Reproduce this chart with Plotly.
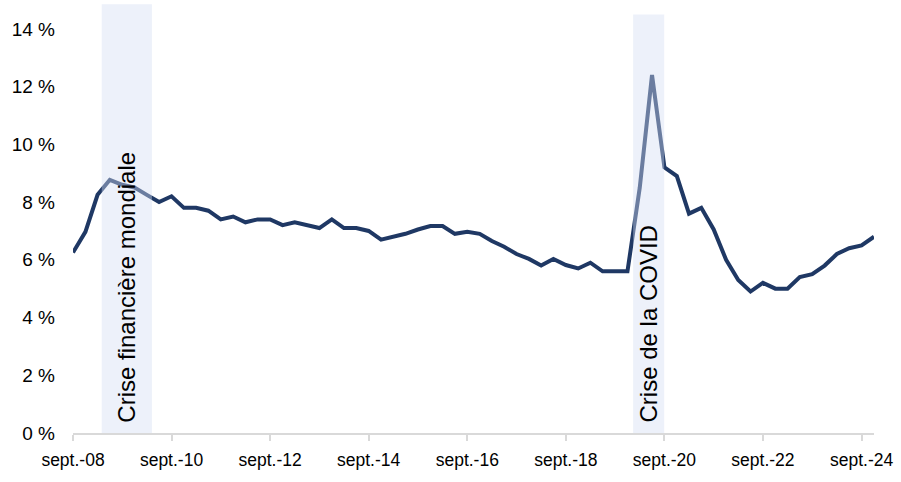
import plotly.graph_objects as go
import pandas as pd

# Quarterly values (%), sept. 2008 -> déc. 2024
values = [6.25, 6.97, 8.25, 8.77, 8.6, 8.5, 8.25, 8.0, 8.2, 7.8,
          7.8, 7.7, 7.4, 7.5, 7.3, 7.4, 7.4, 7.2, 7.3, 7.2,
          7.1, 7.4, 7.1, 7.1, 7.0, 6.7, 6.8, 6.9, 7.05, 7.17,
          7.17, 6.9, 6.97, 6.9, 6.65, 6.45, 6.2, 6.03, 5.8, 6.03,
          5.82, 5.7, 5.9, 5.6, 5.6, 5.6, 8.5, 12.4, 9.2, 8.9,
          7.6, 7.8, 7.05, 6.0, 5.3, 4.9, 5.2, 5.0, 5.0, 5.4,
          5.5, 5.8, 6.2, 6.4, 6.5, 6.8]
dates = pd.date_range("2008-09-30", periods=len(values), freq="QE")

tick_vals = ["2008-09-30", "2010-09-30", "2012-09-30", "2014-09-30", "2016-09-30",
             "2018-09-30", "2020-09-30", "2022-09-30", "2024-09-30"]
tick_text = ["sept.-08", "sept.-10", "sept.-12", "sept.-14", "sept.-16",
             "sept.-18", "sept.-20", "sept.-22", "sept.-24"]
y_ticks = [0, 2, 4, 6, 8, 10, 12, 14]
y_text = ["0 %", "2 %", "4 %", "6 %", "8 %", "10 %", "12 %", "14 %"]

crises = [
    {"label": "Crise financière mondiale", "start": "2009-05-01", "end": "2010-05-08", "top": 14.85},
    {"label": "Crise de la COVID", "start": "2020-02-11", "end": "2020-09-28", "top": 14.5},
]

fig = go.Figure()
fig.add_trace(go.Scatter(x=dates, y=values, mode="lines",
                         line=dict(color="#1F3864", width=4), hoverinfo="skip",
                         showlegend=False))

for c in crises:
    fig.add_shape(type="rect", xref="x", yref="y", x0=c["start"], x1=c["end"],
                  y0=0, y1=c["top"], fillcolor="rgb(212,222,242)", opacity=0.42,
                  line=dict(width=0), layer="above")
    mid = pd.Timestamp(c["start"]) + (pd.Timestamp(c["end"]) - pd.Timestamp(c["start"])) / 2
    fig.add_annotation(x=mid, y=0.3, xref="x", yref="y", text=c["label"],
                       textangle=-90, showarrow=False, xanchor="center", yanchor="bottom",
                       font=dict(family="Liberation Sans", size=24, color="#000000"))

fig.update_layout(
    width=901, height=482,
    margin=dict(l=73, r=27, t=0, b=49),
    plot_bgcolor="white", paper_bgcolor="white",
    font=dict(family="Liberation Sans", size=18, color="#000000"),
    xaxis=dict(range=[dates[0], dates[-1]], tickvals=tick_vals, ticktext=tick_text,
               showgrid=False, showline=True, linecolor="#D9D9D9", linewidth=1.5,
               ticks="outside", ticklen=6, tickcolor="#D9D9D9", tickwidth=1.5,
               ticklabelstandoff=4, tickfont=dict(size=17.5), zeroline=False),
    yaxis=dict(range=[0, 15], tickvals=y_ticks, ticktext=y_text, showgrid=False,
               showline=False, zeroline=False, ticks="", ticklabelstandoff=17,
               tickfont=dict(size=19)),
)

fig.write_html("out.html")
